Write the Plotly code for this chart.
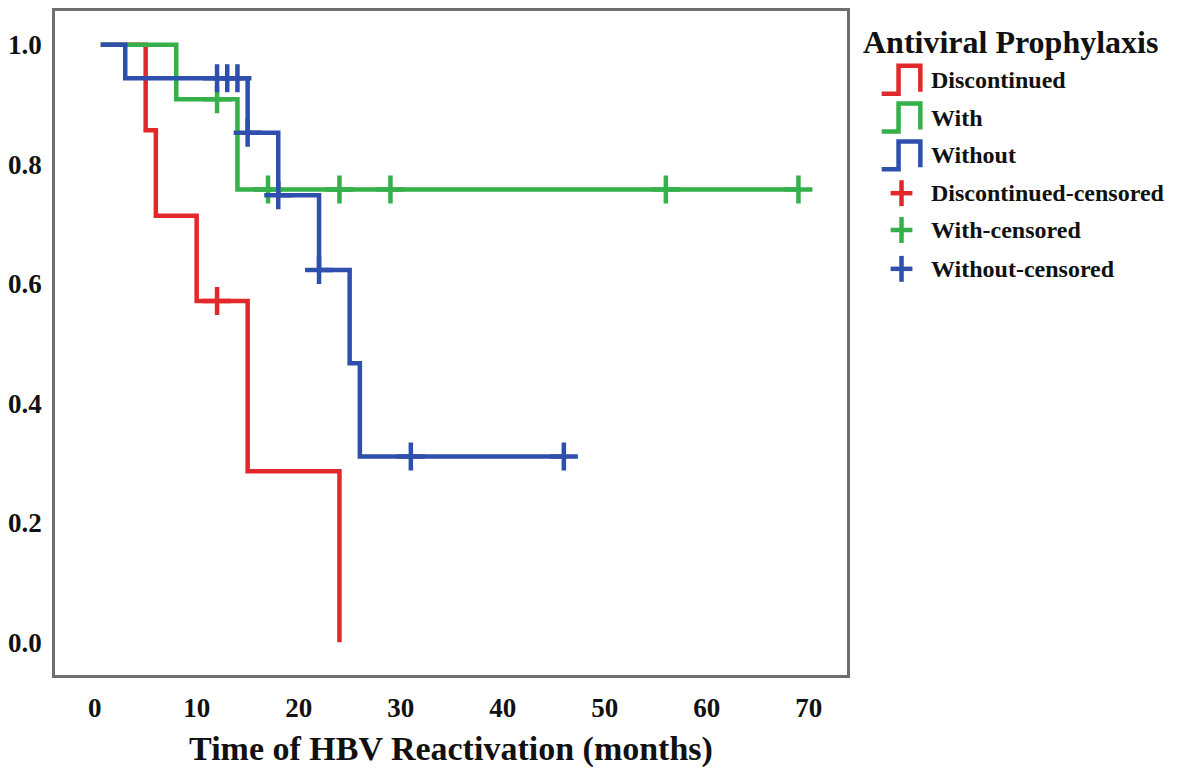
import plotly.graph_objects as go

# ---------------- data ----------------
disc_t = [0.6, 5, 6, 10, 15, 24]
disc_s = [1.0, 0.857, 0.714, 0.571, 0.286, 0.0]
disc_cens_t = [12]
disc_cens_s = [0.571]

with_t = [0.6, 8, 14, 69]
with_s = [1.0, 0.909, 0.758, 0.758]
with_cens_t = [12, 17, 24, 29, 56, 69]
with_cens_s = [0.909, 0.758, 0.758, 0.758, 0.758, 0.758]

wo_t = [0.6, 3, 15, 18, 22, 25, 26, 46]
wo_s = [1.0, 0.944, 0.853, 0.748, 0.623, 0.467, 0.311, 0.311]
wo_cens_t = [12, 13, 14, 15, 18, 22, 31, 46]
wo_cens_s = [0.944, 0.944, 0.944, 0.853, 0.748, 0.623, 0.311, 0.311]

x_ticks = [0, 10, 20, 30, 40, 50, 60, 70]
y_ticks = [0.0, 0.2, 0.4, 0.6, 0.8, 1.0]

RED = "#e3282c"
GREEN = "#35b04a"
BLUE = "#2e4fac"
FONT = "Liberation Serif"

series = [
    ("Discontinued", disc_t, disc_s, disc_cens_t, disc_cens_s, RED),
    ("With", with_t, with_s, with_cens_t, with_cens_s, GREEN),
    ("Without", wo_t, wo_s, wo_cens_t, wo_cens_s, BLUE),
]

fig = go.Figure()
for name, t, s, ct, cs, col in series:
    fig.add_trace(go.Scatter(
        x=t, y=s, mode="lines", name=name, line=dict(color=col, width=4.5, shape="hv"),
        showlegend=False, hoverinfo="x+y+name"))
for name, t, s, ct, cs, col in series:
    fig.add_trace(go.Scatter(
        x=ct, y=cs, mode="markers", name=name + "-censored",
        marker=dict(symbol="cross-thin", size=20, line=dict(color=col, width=4.5)),
        showlegend=False, hoverinfo="x+y+name"))

# ---------------- layout ----------------
OFF = 8  # default page body margin
L, R, T, B = 48, 847, 8, 675  # plot frame in window pixels
W, H = 1200, 774


def px(x):
    return (x - L) / (R - L)


def py(y):
    return (B - y) / (B - T)


shapes = []
annotations = []

annotations.append(dict(
    x=px(861), y=py(39), xref="paper", yref="paper", xanchor="left", yanchor="middle",
    text="<b>Antiviral Prophylaxis</b>", showarrow=False,
    font=dict(family=FONT, size=32, color="#111111")))

legend_items = [
    ("Discontinued", RED, "step"),
    ("With", GREEN, "step"),
    ("Without", BLUE, "step"),
    ("Discontinued-censored", RED, "plus"),
    ("With-censored", GREEN, "plus"),
    ("Without-censored", BLUE, "plus"),
]
legend_y = [77, 115, 153, 191, 228, 267]
for (label, col, kind), yy in zip(legend_items, legend_y):
    annotations.append(dict(
        x=px(930), y=py(yy), xref="paper", yref="paper", xanchor="left", yanchor="middle",
        text="<b>" + label + "</b>", showarrow=False,
        font=dict(family=FONT, size=24, color="#111111")))
    if kind == "step":
        pts = [(882, yy + 14), (899, yy + 14), (899, yy - 14), (921, yy - 14), (921, yy + 12)]
        path = "M " + " L ".join(f"{px(a):.5f},{py(b):.5f}" for a, b in pts)
        shapes.append(dict(type="path", xref="paper", yref="paper", path=path,
                           line=dict(color=col, width=4.5)))
    else:
        shapes.append(dict(type="line", xref="paper", yref="paper",
                           x0=px(891), x1=px(913), y0=py(yy), y1=py(yy),
                           line=dict(color=col, width=4.5)))
        shapes.append(dict(type="line", xref="paper", yref="paper",
                           x0=px(902), x1=px(902), y0=py(yy - 13), y1=py(yy + 13),
                           line=dict(color=col, width=4.5)))

x_per_px = 10.0 / 102.9
fig.update_layout(
    width=W, height=H,
    margin=dict(l=L - OFF, r=W - R + OFF, t=T - OFF, b=H - B + OFF),
    paper_bgcolor="white", plot_bgcolor="white",
    font=dict(family=FONT, color="#111111"),
    shapes=shapes, annotations=annotations,
    showlegend=False,
)
fig.update_xaxes(
    range=[0 - (88 - L) * x_per_px, 0 + (R - 88) * x_per_px],
    tickvals=x_ticks, ticktext=[str(v) for v in x_ticks],
    showgrid=False, zeroline=False, showline=True, mirror=True,
    linecolor="#6e6e6e", linewidth=2.5, ticks="",
    tickfont=dict(family=FONT, size=27, weight="bold", color="#111111"),
    ticklabelstandoff=7,
    title=dict(text="<b>Time of HBV Reactivation (months)</b>",
               font=dict(family=FONT, size=34, color="#111111"), standoff=15),
)
fig.update_yaxes(
    range=[-(B - 642) / 600.0, 1 + (42 - T) / 600.0],
    tickvals=y_ticks, ticktext=[f"{v:.1f}" for v in y_ticks],
    showgrid=False, zeroline=False, showline=True, mirror=True,
    linecolor="#6e6e6e", linewidth=2.5, ticks="",
    tickfont=dict(family=FONT, size=27, weight="bold", color="#111111"),
    ticklabelstandoff=5,
)

fig.write_html("out.html")
